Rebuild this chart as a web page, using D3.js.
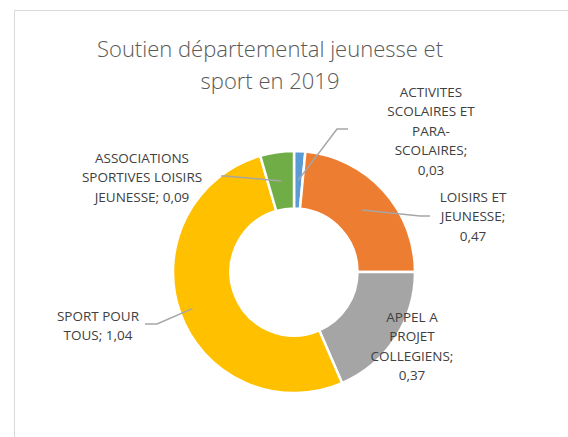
<!DOCTYPE html>
<html>
<head>
<meta charset="utf-8">
<script src="https://cdn.jsdelivr.net/npm/d3@7"></script>
<style>
  body { margin: 0; background: #fff; }
  text { font-family: "Open Sans", sans-serif; }
</style>
</head>
<body>
<script>
//data
var categories = ["ACTIVITES SCOLAIRES ET PARA-SCOLAIRES", "LOISIRS ET JEUNESSE", "APPEL A PROJET COLLEGIENS", "SPORT POUR TOUS", "ASSOCIATIONS SPORTIVES LOISIRS JEUNESSE"];
var values = [0.03, 0.47, 0.37, 1.04, 0.09];
var valueLabels = ["0,03", "0,47", "0,37", "1,04", "0,09"];
var colours = ["#5B9BD5", "#ED7D31", "#A5A5A5", "#FFC000", "#70AD47"];

//label lines as excel wraps them
var labelLines = [
    ["ACTIVITES", "SCOLAIRES ET", "PARA-", "SCOLAIRES;", "0,03"],
    ["LOISIRS ET", "JEUNESSE;", "0,47"],
    ["APPEL A", "PROJET", "COLLEGIENS;", "0,37"],
    ["SPORT POUR", "TOUS; 1,04"],
    ["ASSOCIATIONS", "SPORTIVES LOISIRS", "JEUNESSE; 0,09"]
];

//layout
var width = 568, height = 437;
var cx = 294, cy = 272;
var outerR = 121, innerR = 63.5;
var lineGap = 19.5;
//label centre x, first line y, leader start (null = no leader), leader end radius
var labelPos = [
    {x: 431, y: 92, lead: [[348, 129], [337, 129]], r: 92},
    {x: 473, y: 197, lead: [[430, 216], [420, 216]], r: 92},
    {x: 412, y: 317, lead: null, r: 92},
    {x: 98, y: 316, lead: [[145, 324], [157, 324]], r: 108},
    {x: 142, y: 158, lead: [[221, 176], [225, 176]], r: 92}
];

var svg = d3.select("body").append("svg")
    .attr("width", width)
    .attr("height", height);

//chart border
svg.append("rect")
    .attr("x", 14.5).attr("y", 10.5)
    .attr("width", 600).attr("height", 500)
    .attr("fill", "#fff")
    .attr("stroke", "#D9D9D9")
    .attr("stroke-width", 1);

//title
var title = svg.append("text")
    .attr("text-anchor", "middle")
    .attr("fill", "#595959")
    .attr("font-size", 22)
    .attr("font-weight", 300);
title.append("tspan").attr("x", 270).attr("y", 57).text("Soutien départemental jeunesse et");
title.append("tspan").attr("x", 270).attr("y", 89).text("sport en 2019");

//donut
var pie = d3.pie().sort(null).value(function (d) { return d; });
var arcs = pie(values);
var arc = d3.arc().innerRadius(innerR).outerRadius(outerR);

var g = svg.append("g").attr("transform", "translate(" + cx + "," + cy + ")");

g.selectAll("path")
    .data(arcs)
    .enter()
    .append("path")
    .attr("d", arc)
    .attr("fill", function (d, i) { return colours[i]; })
    .attr("stroke", "#fff")
    .attr("stroke-width", 2.5)
    .attr("stroke-linejoin", "miter");

//leader lines
arcs.forEach(function (d, i) {
    var p = labelPos[i];
    if (!p.lead) return;
    var mid = (d.startAngle + d.endAngle) / 2;
    var end = [cx + p.r * Math.sin(mid), cy - p.r * Math.cos(mid)];
    svg.append("path")
        .attr("d", d3.line()(p.lead.concat([end])))
        .attr("fill", "none")
        .attr("stroke", "#A6A6A6")
        .attr("stroke-width", 1.5);
});

//data labels
labelLines.forEach(function (lines, i) {
    var p = labelPos[i];
    var t = svg.append("text")
        .attr("text-anchor", "middle")
        .attr("fill", "#404040")
        .attr("font-size", 13.5);
    lines.forEach(function (l, j) {
        t.append("tspan")
            .attr("x", p.x)
            .attr("y", p.y + j * lineGap)
            .attr("dy", "0.35em")
            .text(l);
    });
});
</script>
</body>
</html>
